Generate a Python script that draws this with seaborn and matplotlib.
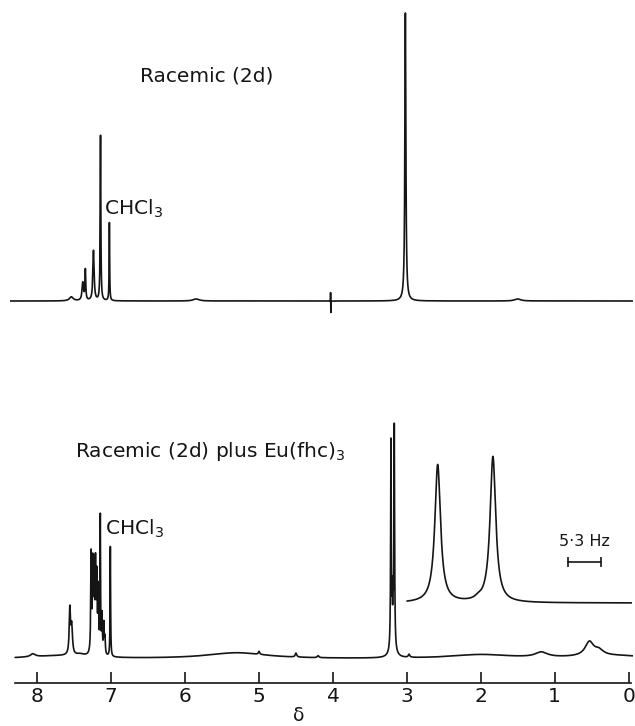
"""
Two 1H NMR traces of racemic (2d): without and with Eu(fhc)3 shift reagent,
plus an expanded inset of the resolved doublet.
"""

import numpy as np
import pandas as pd
import matplotlib
matplotlib.use("Agg")
import matplotlib.pyplot as plt
import seaborn as sns

# ─── Data (chemical shifts in ppm, intensities in arbitrary units) ──

# Racemic (2d): peak list
TOP_SHIFT  = [7.54, 7.385, 7.35, 7.24, 7.145, 7.025, 4.032, 4.028, 3.02, 5.85, 1.50]
TOP_HEIGHT = [4, 18, 30, 50, 165, 78, 9, -12, 288, 2, 2]
TOP_WIDTH  = [0.03, 0.012, 0.006, 0.010, 0.005, 0.004, 0.001, 0.001, 0.008, 0.05, 0.05]

# Racemic (2d) plus Eu(fhc)3: peak list
BOT_SHIFT  = [7.70, 8.06, 7.56, 7.535, 7.42,
              7.272, 7.25, 7.232, 7.213, 7.195, 7.175, 7.148, 7.125, 7.10, 7.085, 7.012,
              5.30, 5.00, 4.50, 4.20, 3.215, 3.17, 3.19, 3.198, 3.186, 2.97,
              2.00, 1.18, 0.53, 0.40, 0.20]
BOT_HEIGHT = [3, 3, 45, 28, 2,
              98, 85, 80, 84, 72, 62, 135, 38, 30, 16, 110,
              6, 3, 4, 2, 205, 218, 18, 40, 36, 3,
              4, 5, 14, 5, 3]
BOT_WIDTH  = [0.5, 0.04, 0.010, 0.012, 0.06,
              0.006, 0.006, 0.006, 0.006, 0.006, 0.006, 0.004, 0.006, 0.006, 0.006, 0.004,
              0.5, 0.010, 0.012, 0.012, 0.005, 0.005, 0.03, 0.003, 0.003, 0.012,
              0.5, 0.10, 0.07, 0.07, 0.6]

# Expanded doublet (x in Hz)
INSET_SHIFT  = [5.09, 13.96, 11.56]
INSET_HEIGHT = [138, 146, 2]
INSET_WIDTH  = [0.55, 0.55, 0.6]
SCALE_BAR_HZ = 5.3

TICKS       = [8, 7, 6, 5, 4, 3, 2, 1, 0]
TICK_LABELS = ["8", "7", "6", "5", "4", "3", "2", "1", "0"]

# ─── Layout / style ────────────────────────────────────────────────

INK        = "#151515"
W, H       = 635, 726
XLIM       = (8.37, -0.06)
TOP_BASE   = 382     # vertical offset of upper trace
BOT_BASE   = 24      # vertical offset of lower trace
INSET_BASE = 7
FS         = 14.5
LW         = 1.2

sns.set_style("white")
plt.rcParams["font.family"] = ["DejaVu Sans"]
plt.rcParams["mathtext.fontset"] = "dejavusans"


def lorentz(x, shifts, heights, widths):
    y = np.zeros_like(x)
    for c, h, w in zip(shifts, heights, widths):
        y += h * w ** 2 / ((x - c) ** 2 + w ** 2)
    return y


def grid(lo, hi, n, shifts):
    return np.union1d(np.linspace(lo, hi, n), np.asarray(shifts, dtype=float))


fig = plt.figure(figsize=(W / 100, H / 100), dpi=100)
fig.patch.set_facecolor("white")

# main axes: x in ppm, y in units above the axis line
ax = fig.add_axes([10 / W, (H - 683) / H, 623 / W, 683 / H])

x_top = grid(-0.06, 8.37, 17000, TOP_SHIFT)
top = pd.DataFrame({"ppm": x_top,
                    "y": TOP_BASE + lorentz(x_top, TOP_SHIFT, TOP_HEIGHT, TOP_WIDTH)})
x_bot = grid(-0.06, 8.30, 17000, BOT_SHIFT)
bot = pd.DataFrame({"ppm": x_bot,
                    "y": BOT_BASE + lorentz(x_bot, BOT_SHIFT, BOT_HEIGHT, BOT_WIDTH)})

for df in (top, bot):
    sns.lineplot(data=df, x="ppm", y="y", ax=ax, color=INK, lw=LW,
                 estimator=None, sort=False)

ax.set_xlim(*XLIM)
ax.set_ylim(0, 683)
ax.set_facecolor("none")
for side in ("top", "left", "right"):
    ax.spines[side].set_visible(False)
ax.spines["bottom"].set_color(INK)
ax.spines["bottom"].set_linewidth(1.2)
ax.spines["bottom"].set_bounds(8.30, -0.03)
ax.set_yticks([])
ax.set_ylabel("")
ax.set_xticks(TICKS)
ax.set_xticklabels(TICK_LABELS, fontsize=FS, color=INK)
ax.tick_params(axis="x", direction="in", length=8, width=1.2, color=INK, pad=3, bottom=True)
ax.set_xlabel("δ", fontsize=FS - 1, color=INK)
ax.xaxis.set_label_coords(0.464, -0.048)
ax.xaxis.label.set_va("center")

# annotations
ax.text(6.61, 601, "Racemic (2d)", fontsize=FS, color=INK, ha="left", va="baseline")
ax.text(7.098, 468, r"CHCl$_3$", fontsize=FS, color=INK, ha="left", va="baseline")
ax.text(7.49, 226, r"Racemic (2d) plus Eu(fhc)$_3$", fontsize=FS, color=INK,
        ha="left", va="baseline")
ax.text(7.084, 148, r"CHCl$_3$", fontsize=FS, color=INK, ha="left", va="baseline")

# inset: expanded doublet, x in Hz
ix = fig.add_axes([406 / W, (H - 610) / H, 226 / W, 160 / H])
x_in = np.linspace(0.16, 36.3, 3000)
inset = pd.DataFrame({"hz": x_in,
                      "y": INSET_BASE + lorentz(x_in, INSET_SHIFT, INSET_HEIGHT, INSET_WIDTH)})
sns.lineplot(data=inset, x="hz", y="y", ax=ix, color=INK, lw=LW, estimator=None, sort=False)
ix.set_xlim(0, 36.3)
ix.set_ylim(0, 160)
ix.axis("off")

bar_start = 26.0
ix.plot([bar_start, bar_start + SCALE_BAR_HZ], [48, 48], color=INK, lw=1.2,
        marker="|", markersize=7, markeredgewidth=1.2)
ix.text(bar_start + SCALE_BAR_HZ / 2, 64, "5·3 Hz", fontsize=11.5, color=INK,
        ha="center", va="baseline")

fig.savefig("out.png", dpi=100, facecolor="white")
plt.close(fig)
